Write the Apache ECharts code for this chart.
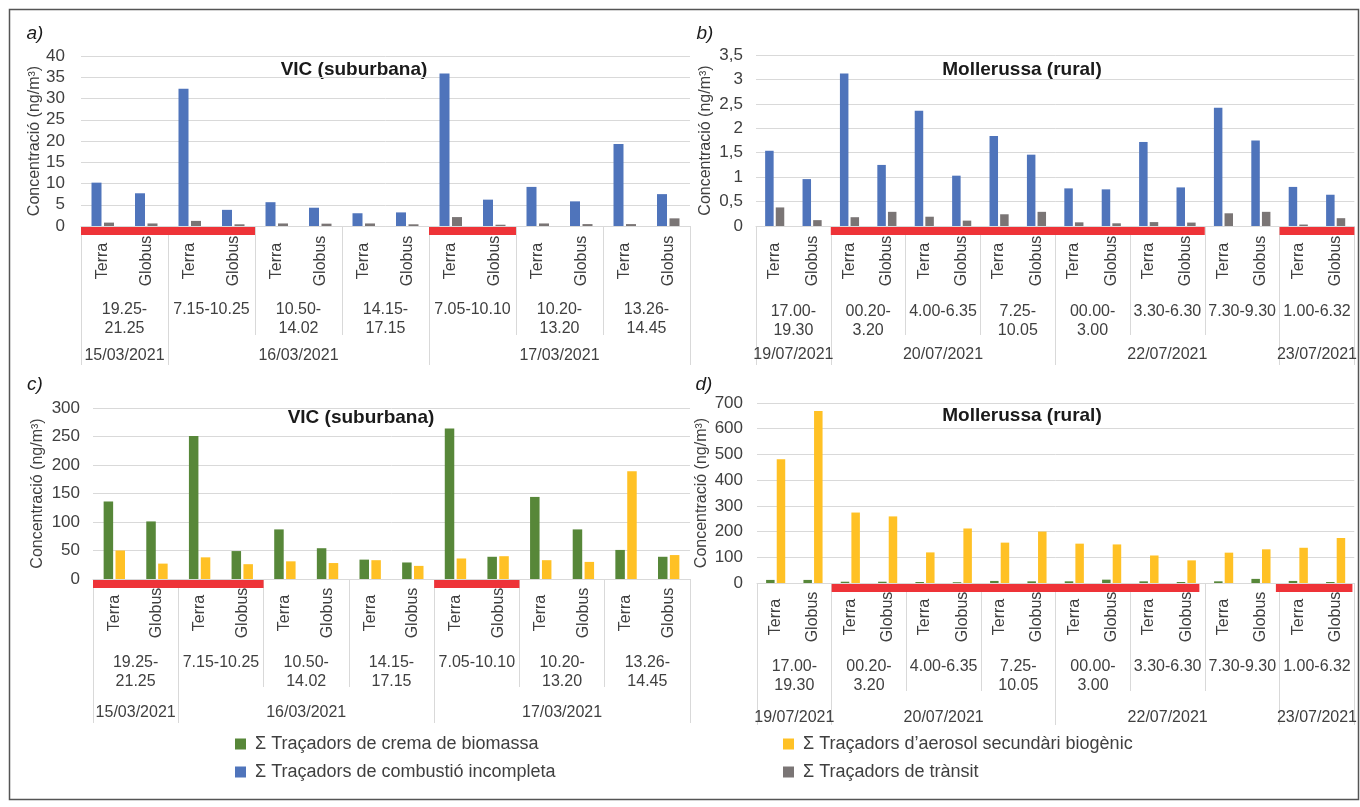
<!DOCTYPE html>
<html><head><meta charset="utf-8">
<script src="https://cdn.jsdelivr.net/npm/echarts@6/dist/echarts.min.js"></script>
<style>html,body{margin:0;padding:0;background:#fff}#c{width:1360px;height:807px}</style>
</head><body><div id="c"></div>
<script>
// ---------- DATA ----------
const subVic = ['Terra','Globus','Terra','Globus','Terra','Globus','Terra','Globus','Terra','Globus','Terra','Globus','Terra','Globus'];
const subMol = ['Terra','Globus','Terra','Globus','Terra','Globus','Terra','Globus','Terra','Globus','Terra','Globus','Terra','Globus','Terra','Globus'];
const groupsVic = ['19.25-\n21.25','7.15-10.25','10.50-\n14.02','14.15-\n17.15','7.05-10.10','10.20-\n13.20','13.26-\n14.45'];
const groupsMol = ['17.00-\n19.30','00.20-\n3.20','4.00-6.35','7.25-\n10.05','00.00-\n3.00','3.30-6.30','7.30-9.30','1.00-6.32'];
const datesVic = ['15/03/2021','16/03/2021','17/03/2021'];
const dateSpansVic = [[0,2],[2,8],[8,14]];
const datesMol = ['19/07/2021','20/07/2021','22/07/2021','23/07/2021'];
const dateSpansMol = [[0,2],[2,8],[8,14],[14,16]];

const vicCombustio = [10.2,7.7,32.3,3.8,5.6,4.3,3.0,3.2,35.9,6.2,9.2,5.8,19.3,7.5];
const vicTransit   = [0.8,0.6,1.2,0.4,0.6,0.55,0.6,0.4,2.1,0.3,0.6,0.45,0.45,1.8];
const molCombustio = [1.54,0.96,3.12,1.25,2.36,1.03,1.84,1.46,0.77,0.75,1.72,0.79,2.42,1.75,0.80,0.64];
const molTransit   = [0.38,0.12,0.18,0.29,0.19,0.11,0.24,0.29,0.075,0.055,0.08,0.07,0.26,0.29,0.03,0.16];
const vicBiomassa  = [136,101,251,49,87,54,34,29,264,39,144,87,51,39];
const vicAerosol   = [50,27,38,26,31,28,33,23,36,40,33,30,189,42];
const molBiomassa  = [12,12,5,5,4,3,8,6.5,6.5,13,6.5,4,6.5,16,8,4];
const molAerosol   = [481,669,274,259,119,212,157,200,153,150,107,88,118,131,137,175];

// night periods (red bands), in sub-category units [start, end]
const nightA = [[0,4],[8,10]];
const nightB = [[2,12],[14,16]];
const nightC = [[0,4],[8,10]];
const nightD = [[2,11.85],[13.9,15.95]];

const yTicksA = {max:40, interval:5};
const yTicksB = {max:3.5, interval:0.5};
const yTicksC = {max:300, interval:50};
const yTicksD = {max:700, interval:100};

// ---------- STYLE ----------
const N_GREEN = 'Σ Traçadors de crema de biomassa';
const N_YELLOW = 'Σ Traçadors d’aerosol secundàri biogènic';
const N_BLUE = 'Σ Traçadors de combustió incompleta';
const N_GRAY = 'Σ Traçadors de trànsit';
const C_BLUE = '#4f74bb', C_GRAY = '#7a7575', C_GREEN = '#578739', C_YELLOW = '#ffc125', C_RED = '#ee3338';
const FONT = "'Liberation Sans', Arial, sans-serif";
const TXT = '#404040', GRIDC = '#d9d9d9';

const panels = [
  {grid:{left:81,right:670,top:56,bottom:581}, sub:subVic, groups:groupsVic, dates:datesVic, spans:dateSpansVic, N:14,
   y:yTicksA, series:[[N_BLUE,vicCombustio,C_BLUE],[N_GRAY,vicTransit,C_GRAY]], night:nightA, barW:10,
   nameGap:36, yMargin:16, gTick:109, dTick:139, gMargin:74, dMargin:122, sMargin:35, comma:false,
   title:'VIC (suburbana)', tpos:[354,70], tag:'a)', tagPos:[35,34]},
  {grid:{left:756,right:5,top:55,bottom:581}, sub:subMol, groups:groupsMol, dates:datesMol, spans:dateSpansMol, N:16,
   y:yTicksB, series:[[N_BLUE,molCombustio,C_BLUE],[N_GRAY,molTransit,C_GRAY]], night:nightB, barW:8.5,
   nameGap:42, yMargin:13, gTick:109, dTick:139, gMargin:76, dMargin:121, sMargin:35, comma:true,
   title:'Mollerussa (rural)', tpos:[1022,70], tag:'b)', tagPos:[705,34]},
  {grid:{left:93,right:670,top:408,bottom:228}, sub:subVic, groups:groupsVic, dates:datesVic, spans:dateSpansVic, N:14,
   y:yTicksC, series:[[N_GREEN,vicBiomassa,C_GREEN],[N_YELLOW,vicAerosol,C_YELLOW]], night:nightC, barW:9.5,
   nameGap:47, yMargin:13, gTick:108, dTick:144, gMargin:74, dMargin:126, sMargin:34, comma:false,
   title:'VIC (suburbana)', tpos:[361,418], tag:'c)', tagPos:[35,385]},
  {grid:{left:757,right:5,top:403,bottom:224}, sub:subMol, groups:groupsMol, dates:datesMol, spans:dateSpansMol, N:16,
   y:yTicksD, series:[[N_GREEN,molBiomassa,C_GREEN],[N_YELLOW,molAerosol,C_YELLOW]], night:nightD, barW:8.5,
   nameGap:47, yMargin:14, gTick:108, dTick:142, gMargin:74, dMargin:127, sMargin:34, comma:false,
   title:'Mollerussa (rural)', tpos:[1022,416], tag:'d)', tagPos:[704,385]}
];

const option = {animation:false, backgroundColor:'#fff', textStyle:{fontFamily:FONT},
  grid:[], xAxis:[], yAxis:[], series:[], graphic:[], legend:[]};

panels.forEach((p, i) => {
  option.grid.push(Object.assign({containLabel:false}, p.grid));
  const base = option.xAxis.length;
  // sub-category axis (Terra / Globus)
  option.xAxis.push({type:'category', gridIndex:i, position:'bottom', data:p.sub,
    axisLine:{show:true, lineStyle:{color:GRIDC}}, axisTick:{show:false},
    axisLabel:{interval:0, rotate:90, align:'center', verticalAlign:'middle', margin:p.sMargin, fontSize:16, color:TXT, fontFamily:FONT},
    splitLine:{show:false}});
  // time-range group axis
  option.xAxis.push({type:'category', gridIndex:i, position:'bottom', data:p.groups,
    axisLine:{show:false}, axisTick:{show:true, length:p.gTick, lineStyle:{color:GRIDC}},
    axisLabel:{interval:0, margin:p.gMargin, fontSize:16, lineHeight:19, color:TXT, fontFamily:FONT},
    splitLine:{show:false}});
  // date axis (value, sub-category units)
  const bounds = [];
  p.spans.forEach(s => { if (!bounds.includes(s[0])) bounds.push(s[0]); if (!bounds.includes(s[1])) bounds.push(s[1]); });
  const centers = p.spans.map(s => (s[0]+s[1])/2);
  option.xAxis.push({type:'value', gridIndex:i, position:'bottom', min:0, max:p.N,
    axisLine:{show:false}, splitLine:{show:false},
    axisTick:{show:true, customValues:bounds, length:p.dTick, lineStyle:{color:GRIDC}},
    axisLabel:{customValues:centers, margin:p.dMargin, fontSize:16, color:TXT, fontFamily:FONT,
      formatter:(v) => { const k = centers.indexOf(v); return k >= 0 ? p.dates[k] : ''; }}});
  option.yAxis.push({type:'value', gridIndex:i, min:0, max:p.y.max, interval:p.y.interval,
    axisLine:{show:false}, axisTick:{show:false},
    splitLine:{lineStyle:{color:GRIDC, width:1}},
    axisLabel:{fontSize:17, color:TXT, margin:p.yMargin, fontFamily:FONT,
      formatter:(v) => p.comma ? String(v).replace('.', ',') : String(v)},
    name:'Concentració (ng/m³)', nameLocation:'middle', nameGap:p.nameGap,
    nameTextStyle:{fontSize:16, color:TXT, fontFamily:FONT}});
  p.series.forEach(s => {
    option.series.push({type:'bar', name:s[0], xAxisIndex:base, yAxisIndex:i, data:s[1],
      barWidth:p.barW, barGap:'25%', itemStyle:{color:s[2]}, z:2});
  });
  option.series.push({type:'custom', name:'night'+i, xAxisIndex:base+2, yAxisIndex:i, z:10, silent:true,
    clip:false, encode:{x:0, y:1},
    data:p.night.map(n => [n[0], 0, n[1]]),
    renderItem:(params, api) => {
      const s = api.coord([api.value(0), 0]);
      const e = api.coord([api.value(2), 0]);
      return {type:'rect', shape:{x:s[0], y:s[1]+1, width:e[0]-s[0], height:8}, style:{fill:C_RED}};
    }});
  option.graphic.push({type:'text', x:p.tpos[0], y:p.tpos[1], style:{text:p.title, fontSize:19, fontWeight:'bold',
    fill:'#1a1a1a', fontFamily:FONT, align:'center', verticalAlign:'middle'}});
  option.graphic.push({type:'text', x:p.tagPos[0], y:p.tagPos[1], style:{text:p.tag, fontSize:19, fontStyle:'italic',
    fill:'#1a1a1a', fontFamily:FONT, align:'center', verticalAlign:'middle'}});
});

option.graphic.push({type:'rect', shape:{x:9.5, y:9.5, width:1349, height:790}, style:{fill:null, stroke:'#555', lineWidth:1.5}, silent:true, z:-1});

const legendBase = {orient:'horizontal', icon:'rect', itemWidth:11, itemHeight:11, padding:0,
  textStyle:{fontSize:18, color:TXT, fontFamily:FONT, padding:[0,0,0,4]}, selectedMode:false};
[[N_GREEN,235,735],[N_YELLOW,783,735],[N_BLUE,235,763],[N_GRAY,783,763]].forEach(l => {
  option.legend.push(Object.assign({}, legendBase, {data:[l[0]], left:l[1], top:l[2]}));
});

const chart = echarts.init(document.getElementById('c'));
chart.setOption(option);
</script>
</body></html>
